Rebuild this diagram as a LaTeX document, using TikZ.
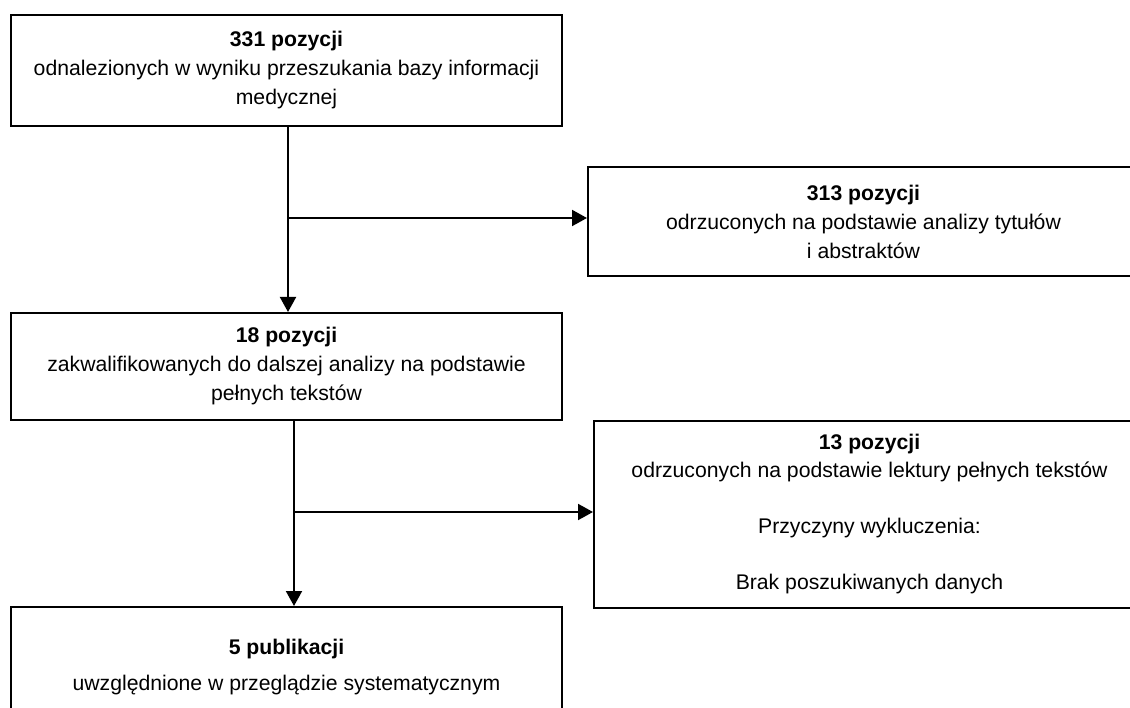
\documentclass[tikz,border=0pt]{standalone}
\usepackage{fontspec}
\setmainfont{Liberation Sans}
\usetikzlibrary{arrows.meta}
\begin{document}
\begin{tikzpicture}[x=1pt,y=-1pt,
  box/.style={draw, line width=2pt, minimum width=551pt, inner sep=0pt, align=center,
    font=\fontsize{21.2}{29}\selectfont, anchor=north west},
  link/.style={line width=2pt, -{Triangle[length=15pt,width=16pt]}}]
\useasboundingbox (0,0) rectangle (1130,708);
\clip (0,0) rectangle (1130,708);
\node[box, minimum height=111pt] (a) at (10,14)
  {\textbf{331 pozycji}\\odnalezionych w wyniku przeszukania bazy informacji\\medycznej};
\node[box, minimum height=109pt] (b) at (587,166)
  {\textbf{313 pozycji}\\odrzuconych na podstawie analizy tytułów\\i abstraktów};
\node[box, minimum height=107pt] (c) at (10,312)
  {\textbf{18 pozycji}\\zakwalifikowanych do dalszej analizy na podstawie\\pełnych tekstów};
\node[box, minimum height=187pt, font=\fontsize{21.2}{28}\selectfont] (d) at (593,420)
  {\textbf{13 pozycji}\\odrzuconych na podstawie lektury pełnych tekstów\\[28pt]Przyczyny wykluczenia:\\[28pt]Brak poszukiwanych danych};
\node[box, minimum height=120pt] (e) at (10,606)
  {\textbf{5 publikacji}\\[7pt]uwzględnione w przeglądzie systematycznym};
\coordinate (a1) at ([xshift=1.5pt]a.south);
\coordinate (c1) at ([xshift=7.5pt]c.south);
\draw[link] (a1) -- (a1 |- c.north);
\draw[link] (a1 |- 0,218) -- (b.west |- 0,218);
\draw[link] (c1) -- (c1 |- e.north);
\draw[link] (c1 |- 0,512) -- (d.west |- 0,512);
\end{tikzpicture}
\end{document}
